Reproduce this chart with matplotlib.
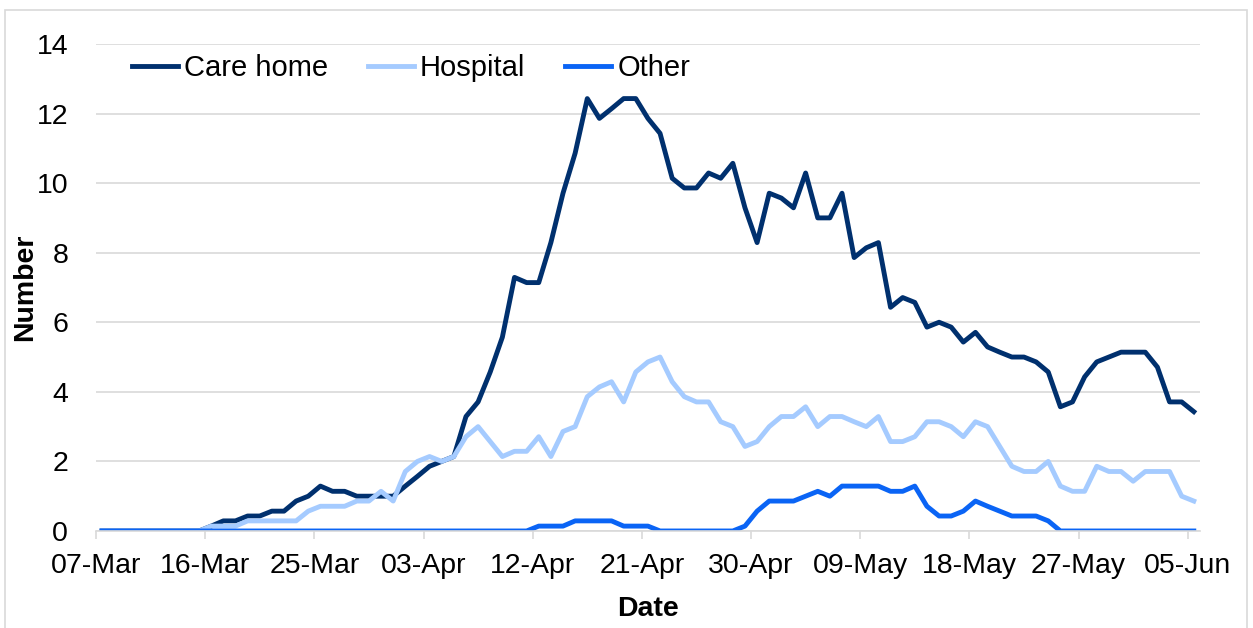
import matplotlib
matplotlib.use("Agg")
import matplotlib.pyplot as plt
import matplotlib.dates as mdates
import numpy as np
import pandas as pd

plt.rcParams['font.family'] = ['Liberation Sans', 'DejaVu Sans']

# daily values, 07-Mar to 05-Jun 2020
dates = pd.date_range('2020-03-07', '2020-06-05', freq='D')

care_home = [0, 0, 0, 0, 0, 0, 0, 0, 0, 0.14,
             0.29, 0.29, 0.43, 0.43, 0.57, 0.57, 0.86, 1.0, 1.29, 1.14,
             1.14, 1.0, 1.0, 1.0, 1.0, 1.29, 1.57, 1.86, 2.0, 2.14,
             3.29, 3.71, 4.57, 5.57, 7.29, 7.14, 7.14, 8.29, 9.71, 10.86,
             12.43, 11.86, 12.14, 12.43, 12.43, 11.86, 11.43, 10.14, 9.86, 9.86,
             10.29, 10.14, 10.57, 9.29, 8.29, 9.71, 9.57, 9.29, 10.29, 9.0,
             9.0, 9.71, 7.86, 8.14, 8.29, 6.43, 6.71, 6.57, 5.86, 6.0,
             5.86, 5.43, 5.71, 5.29, 5.14, 5.0, 5.0, 4.86, 4.57, 3.57,
             3.71, 4.43, 4.86, 5.0, 5.14, 5.14, 5.14, 4.71, 3.71, 3.71,
             3.43]

hospital = [0, 0, 0, 0, 0, 0, 0, 0, 0, 0.14,
            0.14, 0.14, 0.29, 0.29, 0.29, 0.29, 0.29, 0.57, 0.71, 0.71,
            0.71, 0.86, 0.86, 1.14, 0.86, 1.71, 2.0, 2.14, 2.0, 2.14,
            2.71, 3.0, 2.57, 2.14, 2.29, 2.29, 2.71, 2.14, 2.86, 3.0,
            3.86, 4.14, 4.29, 3.71, 4.57, 4.86, 5.0, 4.29, 3.86, 3.71,
            3.71, 3.14, 3.0, 2.43, 2.57, 3.0, 3.29, 3.29, 3.57, 3.0,
            3.29, 3.29, 3.14, 3.0, 3.29, 2.57, 2.57, 2.71, 3.14, 3.14,
            3.0, 2.71, 3.14, 3.0, 2.43, 1.86, 1.71, 1.71, 2.0, 1.29,
            1.14, 1.14, 1.86, 1.71, 1.71, 1.43, 1.71, 1.71, 1.71, 1.0,
            0.86]

other = [0, 0, 0, 0, 0, 0, 0, 0, 0, 0,
         0, 0, 0, 0, 0, 0, 0, 0, 0, 0,
         0, 0, 0, 0, 0, 0, 0, 0, 0, 0,
         0, 0, 0, 0, 0, 0, 0.14, 0.14, 0.14, 0.29,
         0.29, 0.29, 0.29, 0.14, 0.14, 0.14, 0, 0, 0, 0,
         0, 0, 0, 0.14, 0.57, 0.86, 0.86, 0.86, 1.0, 1.14,
         1.0, 1.29, 1.29, 1.29, 1.29, 1.14, 1.14, 1.29, 0.71, 0.43,
         0.43, 0.57, 0.86, 0.71, 0.57, 0.43, 0.43, 0.43, 0.29, 0,
         0, 0, 0, 0, 0, 0, 0, 0, 0, 0,
         0]

tick_dates = pd.date_range('2020-03-07', '2020-06-05', freq='9D')

fig = plt.figure(figsize=(12.53, 6.28), dpi=100)
ax = fig.add_axes([0.0766, 0.1545, 0.881, 0.7755])

# Excel-style date axis: points sit in the middle of each day
x = dates + pd.Timedelta(hours=12)
ax.plot(x, care_home, color='#00306E', lw=3.5, label='Care home', solid_joinstyle='round')
ax.plot(x, hospital, color='#A5CBFF', lw=3.5, label='Hospital', solid_joinstyle='round')
ax.plot(x, other, color='#0A64F5', lw=3.5, label='Other', solid_joinstyle='round')

ax.set_xlim(pd.Timestamp('2020-03-07'), pd.Timestamp('2020-06-06'))
ax.set_ylim(0, 14)
ax.set_yticks(np.arange(0, 15, 2))
ax.set_xticks(tick_dates)
ax.xaxis.set_major_formatter(mdates.DateFormatter('%d-%b'))

ax.grid(axis='y', color='#D9D9D9', lw=1.2)
ax.set_axisbelow(True)
for s in ['top', 'right', 'left']:
    ax.spines[s].set_visible(False)
ax.spines['bottom'].set_color('#D9D9D9')
ax.spines['bottom'].set_linewidth(1.2)
ax.tick_params(axis='y', length=0, pad=20, labelsize=20.5)
ax.tick_params(axis='x', length=6, color='#D9D9D9', width=1.2, pad=10, labelsize=20.5)

ax.set_xlabel('Date', fontsize=20.5, fontweight='bold', labelpad=12)
ax.set_ylabel('Number', fontsize=20.5, fontweight='bold')
ax.yaxis.set_label_coords(-0.0525, 0.5)

ax.legend(loc='center left', bbox_to_anchor=(0.019, 0.951), ncol=3, frameon=False,
          fontsize=21, borderpad=0, handlelength=1.6, handletextpad=0.2,
          columnspacing=1.35)

# chart area border
border = plt.Rectangle((5 / 1253, -0.1), 1242 / 1253, 1.1 - 10 / 628,
                       transform=fig.transFigure, fill=False,
                       edgecolor='#D9D9D9', lw=1.2)
fig.patches.append(border)

fig.savefig('out.png', dpi=100)
